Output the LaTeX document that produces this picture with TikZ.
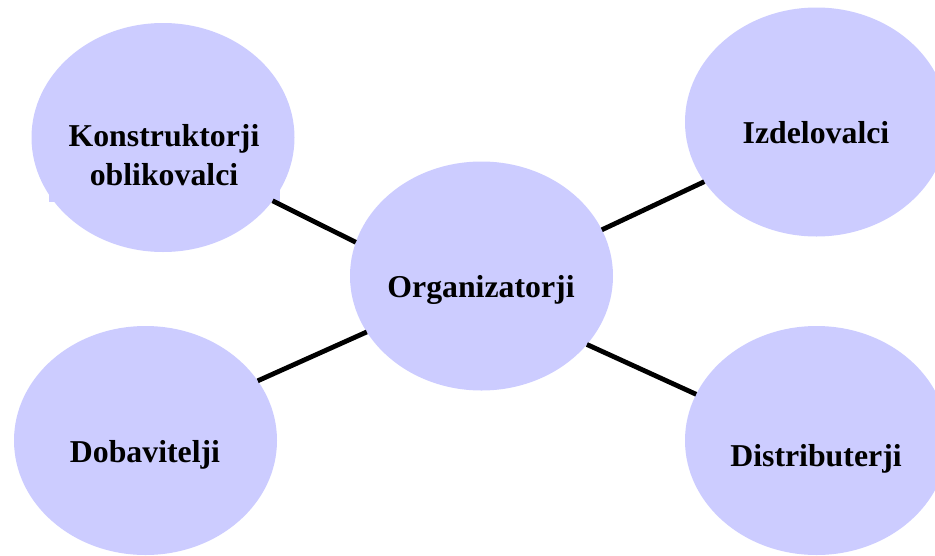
\documentclass[tikz,border=0pt]{standalone}
\usepackage{fontspec}
\setmainfont{Liberation Serif}
\usetikzlibrary{shapes.geometric}
\definecolor{blobfill}{HTML}{CCCCFF}
\tikzset{
  blob/.style={ellipse, fill=blobfill, draw=none, minimum width=263pt, minimum height=229pt, inner sep=0pt, outer sep=0pt},
  lbl/.style={anchor=base, inner sep=0pt, font=\fontsize{31.8}{39}\selectfont\bfseries, text=black},
  link/.style={line width=4.8pt, black}
}
\begin{document}
\begin{tikzpicture}[x=1pt,y=-1pt]
\useasboundingbox (0,0) rectangle (935,555);
\fill[white] (0,0) rectangle (935,555);
\node[blob] (kon) at (163,137.5) {};
\node[blob] (org) at (481.5,276) {};
\node[blob] (izd) at (816.5,122) {};
\node[blob] (dob) at (145.5,440.5) {};
\node[blob] (dis) at (816.5,440.5) {};
\fill[blobfill] (49,100) rectangle (280,202);
\node[lbl] (t1) at (164,146) {Konstruktorji};
\node[lbl] (t2) at (164,185) {oblikovalci};
\node[lbl] (t3) at (481,297) {Organizatorji};
\node[lbl] (t4) at (816,143) {Izdelovalci};
\node[lbl] (t5) at (145,462) {Dobavitelji};
\node[lbl] (t6) at (816,466) {Distributerji};
\draw[link] (kon.-30.8) -- (org.165);
\draw[link] (org.21.7) -- (izd.208.3);
\draw[link] (org.206.3) -- (dob.28.3);
\draw[link] (org.-33.6) -- (dis.159.5);
\end{tikzpicture}
\end{document}
